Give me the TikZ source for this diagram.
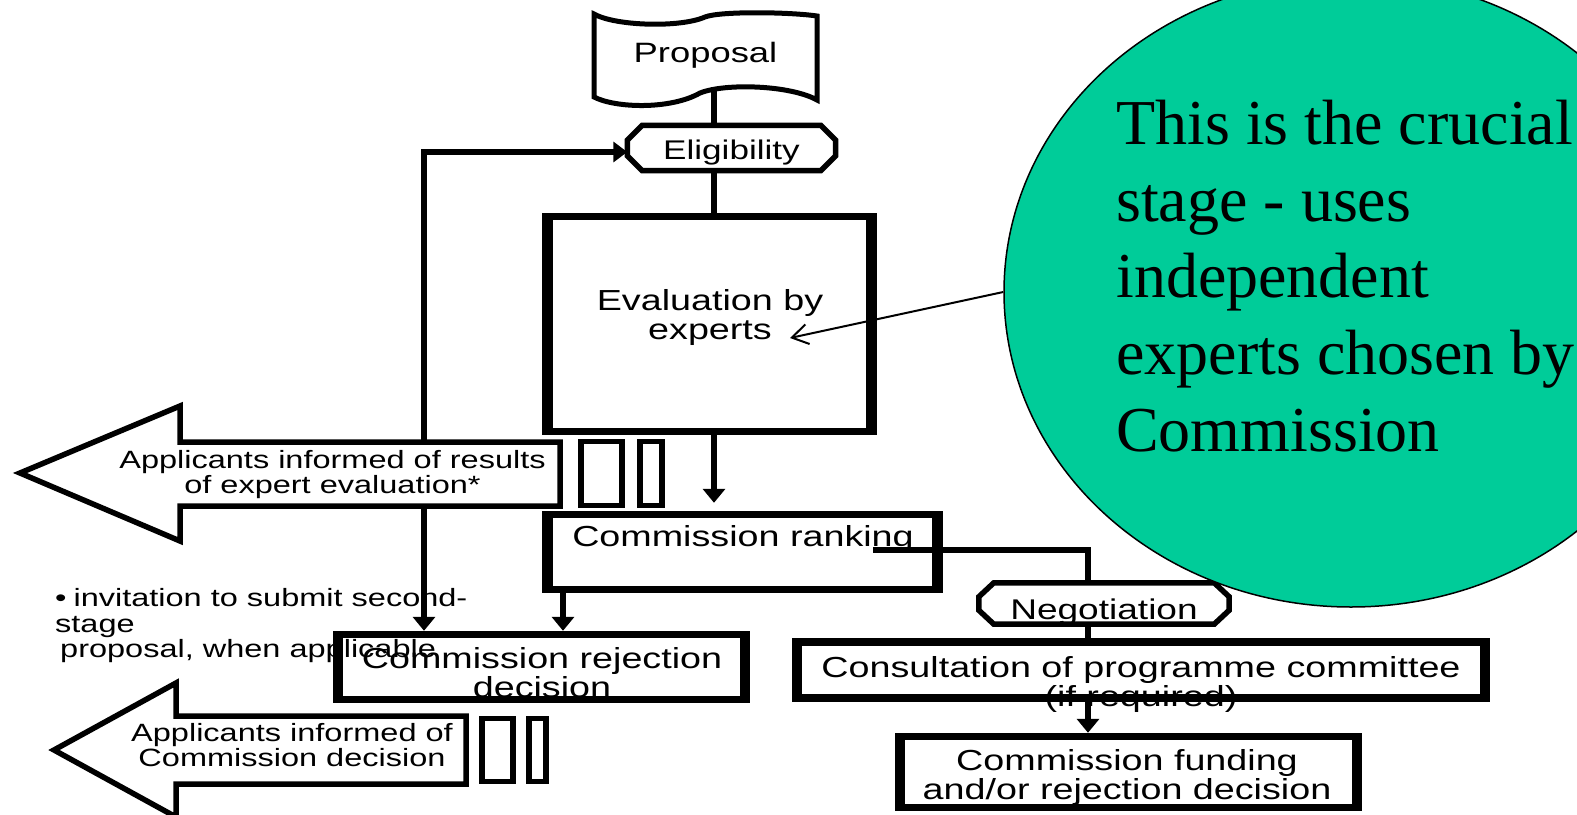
\documentclass[tikz,border=0pt]{standalone}
\usepackage{fontspec}
\setmainfont{Liberation Serif}
\newfontfamily\sfw[FakeStretch=1.3]{Liberation Sans}
\usetikzlibrary{arrows.meta,shapes.geometric,calc}
\definecolor{bubblegreen}{RGB}{0,204,153}
\begin{document}
\begin{tikzpicture}[x=1pt,y=-1pt,
  bx/.style 2 args={rectangle, inner sep=0pt, fill=black,
    path picture={\fill[white] ([xshift=#1,yshift=-#2]path picture bounding box.north west)
      rectangle ([xshift=-#1,yshift=#2]path picture bounding box.south east);}},
  hold/.style={rectangle, inner sep=0pt},
  conn/.style={line width=5.5pt, line join=miter},
  arr/.style={conn, -{Triangle[length=14pt,width=22pt]}},
  octline/.style={line width=5.5pt, fill=white, line join=miter},
  shapeline/.style={line width=5.5pt, fill=white, line join=miter},
  tA/.style={font=\sfw\fontsize{29pt}{29pt}\selectfont, align=center, inner sep=0pt},
  tB/.style={font=\sfw\fontsize{25pt}{25pt}\selectfont, align=center, inner sep=0pt},
]
\useasboundingbox (0,0) rectangle (1577,814);
\clip (0,0) rectangle (1577,814);
\fill[white] (0,0) rectangle (1577,814);

% ---------- boxes ----------
\node[bx={11pt}{7pt}, minimum width=335pt, minimum height=222pt] (eval) at (709.5,324) {};
\node[bx={11pt}{7pt}, minimum width=401pt, minimum height=82pt] (rank) at (742.5,552) {};
\node[bx={10pt}{7pt}, minimum width=417pt, minimum height=72pt] (rej) at (541.5,667) {};
\node[bx={10pt}{8pt}, minimum width=698pt, minimum height=64pt] (cons) at (1141,670) {};
\node[bx={10pt}{7pt}, minimum width=467pt, minimum height=78pt] (fund) at (1128.5,772) {};
\node[bx={6pt}{5pt}, minimum width=47pt, minimum height=69pt] (r1a) at (601.5,473.5) {};
\node[bx={6pt}{5pt}, minimum width=28pt, minimum height=69pt] (r1b) at (651,473.5) {};
\node[bx={6pt}{5pt}, minimum width=37pt, minimum height=68pt] (r2a) at (497.5,750) {};
\node[bx={6pt}{5pt}, minimum width=23pt, minimum height=68pt] (r2b) at (537.5,750) {};

% ---------- octagons ----------
\node[hold, minimum width=208pt, minimum height=45pt] (elig) at (731.5,148) {};
\node[hold, minimum width=250pt, minimum height=41pt] (nego) at (1104,603.5) {};
\draw[octline] ([xshift=15pt]elig.north west) -- ([xshift=-15pt]elig.north east)
  -- ([yshift=-15pt]elig.north east) -- ([yshift=15pt]elig.south east)
  -- ([xshift=-15pt]elig.south east) -- ([xshift=15pt]elig.south west)
  -- ([yshift=15pt]elig.south west) -- ([yshift=-15pt]elig.north west) -- cycle;
\draw[octline] ([xshift=15pt]nego.north west) -- ([xshift=-15pt]nego.north east)
  -- ([yshift=-14pt]nego.north east) -- ([yshift=14pt]nego.south east)
  -- ([xshift=-15pt]nego.south east) -- ([xshift=15pt]nego.south west)
  -- ([yshift=14pt]nego.south west) -- ([yshift=-14pt]nego.north west) -- cycle;

% ---------- flag ----------
\draw[line width=5pt, line join=miter, fill=white]
  (594,14) .. controls (615,26) and (680,28) .. (705,17)
  .. controls (720,11) and (790,12) .. (817,16) -- (817,100)
  .. controls (790,85) and (725,83) .. (700,93)
  .. controls (670,110) and (615,108) .. (594,97) -- cycle;
\node[hold, minimum width=223pt, minimum height=83pt,
  font=\sfw\fontsize{28pt}{28pt}\selectfont] (prop) at (705.5,55.5) {Proposal};

% ---------- connectors ----------
\coordinate (px) at (714,90);
\coordinate (ly) at (424,152);
\coordinate (rk) at (873,550);
\coordinate (nx) at (1088,0);
\coordinate (rx) at (563,0);
\coordinate (etip) at (790,338);

\draw[conn] (px) -- (px |- elig.north);
\draw[conn] (elig.south -| px) -- (eval.north -| px);
\draw[arr, shorten >=8pt] (eval.south -| px) -- (rank.north -| px);
\draw[conn, {Triangle[length=14pt,width=20pt]}-{Triangle[length=14pt,width=22pt]}]
  (ly -| elig.west) -- (ly) -- (ly |- rej.north);
\draw[arr] (rank.south -| rx) -- (rej.north -| rx);
\draw[conn] (rk) -| (nego.north -| nx);
\draw[conn] (nego.south -| nx) -- (cons.north -| nx);
\draw[arr] (cons.south -| nx) -- (fund.north -| nx);

% ---------- big left arrows ----------
\draw[shapeline] (20,473) -- (180,406) -- (180,442) -- (560,442) -- (560,506)
  -- (180,506) -- (180,541) -- cycle;
\draw[shapeline] (54,750) -- (176,683) -- (176,716) -- (466,716) -- (466,784)
  -- (176,784) -- (176,817) -- cycle;

% ---------- texts ----------
\node[tA] (teval) at (710,317.5) {Evaluation by\\experts};
\node[tA] (trank) at (743,538.5) {Commission ranking};
\node[tA] (trej) at (542,672.5) {Commission rejection\\decision};
\node[tA] (tcons) at (1141,684.5) {Consultation of programme committee\\(if required)};
\node[tA] (tfund) at (1127,777) {Commission funding\\and/or rejection decision};
\node[font=\sfw\fontsize{27pt}{27pt}\selectfont, inner sep=0pt] (telig) at (731.5,153) {Eligibility};
\node[font=\sfw\fontsize{28.5pt}{28.5pt}\selectfont, inner sep=0pt] (tnego) at (1104,612.5) {Negotiation};
\node[tB] (tinf1) at (332.5,475) {Applicants informed of results\\of expert evaluation*};
\node[tB] (tinf2) at (292,745) {Applicants informed of\\Commission decision};
\node[font=\sfw\fontsize{25pt}{25.5pt}\selectfont, align=left, anchor=west, inner sep=0pt]
  (note) at (55,626) {•\hspace{7pt}invitation to submit second-\\stage\\\hspace*{5pt}proposal, when applicable};

% ---------- bubble ----------
\node[ellipse, draw=black, line width=1.5pt, fill=bubblegreen, inner sep=0pt,
  minimum width=694pt, minimum height=630pt] (bub) at (1351,292) {};
\draw[line width=2pt, -{Straight Barb[length=16pt,width=20pt]}] (bub.west) -- (etip);
\node[font=\fontsize{64pt}{76.8pt}\selectfont, align=left, anchor=west, inner sep=0pt]
  (btxt) at (1116,276) {This is the crucial\\stage - uses\\independent\\experts chosen by\\Commission};
\end{tikzpicture}
\end{document}
